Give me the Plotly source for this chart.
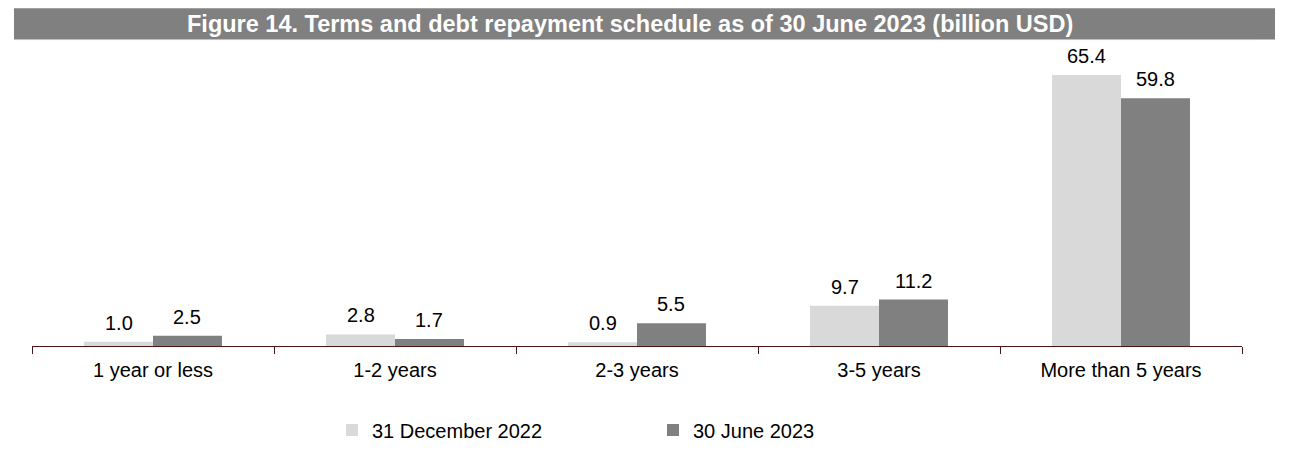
import plotly.graph_objects as go

categories = ["1 year or less", "1-2 years", "2-3 years", "3-5 years", "More than 5 years"]
dec_2022 = [1.0, 2.8, 0.9, 9.7, 65.4]
jun_2023 = [2.5, 1.7, 5.5, 11.2, 59.8]
series_names = ["31 December 2022", "30 June 2023"]
title_text = "Figure 14. Terms and debt repayment schedule as of 30 June 2023 (billion USD)"

OFF = 8  # page body margin
W, H = 1299 - OFF, 460 - OFF
# page coordinates of the plot area
P_L, P_R, P_T, P_B = 32, 1242, 56, 347
ML, MR, MT, MB = P_L - OFF, W - (P_R - OFF), P_T - OFF, H - (P_B - OFF)
PW, PH = P_R - P_L, P_B - P_T

def px_x(x):
    return (x - P_L) / PW

def px_y(y):
    return (P_B - y) / PH

LIGHT = "#d9d9d9"
DARK = "#808080"
FONT = "Liberation Sans, Arial, sans-serif"

fig = go.Figure()
fig.add_trace(go.Bar(x=categories, y=dec_2022, name=series_names[0], marker_color=LIGHT,
                     marker_line_width=0))
fig.add_trace(go.Bar(x=categories, y=jun_2023, name=series_names[1], marker_color=DARK,
                     marker_line_width=0))

bargap = 0.43
bar_w_px = PW / len(categories) * (1 - bargap) / 2
annotations = []
for vals, shift in ((dec_2022, -bar_w_px / 2), (jun_2023, bar_w_px / 2)):
    for c, v in zip(categories, vals):
        annotations.append(dict(x=c, y=v, xref="x", yref="y", text=f"{v:.1f}", showarrow=False,
                                xshift=shift, yshift=19, yanchor="middle",
                                font=dict(family=FONT, size=20, color="#000000")))

annotations.append(dict(x=px_x(630), y=px_y(24), xref="paper", yref="paper", text=f"<b>{title_text}</b>",
                        showarrow=False, xanchor="center", yanchor="middle",
                        font=dict(family=FONT, size=23.5, color="#ffffff")))

shapes = [
    dict(type="rect", xref="paper", yref="paper", x0=px_x(14), x1=px_x(1275), y0=px_y(39.5), y1=px_y(8),
         fillcolor="#808080", line_width=0, layer="below"),
    dict(type="line", xref="paper", yref="paper", x0=px_x(14), x1=px_x(1258), y0=px_y(39.5), y1=px_y(39.5),
         line=dict(color="#c0c0c0", width=1)),
]

fig.update_layout(
    width=W, height=H,
    margin=dict(l=ML, r=MR, t=MT, b=MB, pad=0),
    paper_bgcolor="white", plot_bgcolor="white",
    barmode="group", bargap=bargap, bargroupgap=0,
    showlegend=True,
    legend=dict(orientation="h", x=px_x(332), xanchor="left", y=px_y(430), yanchor="middle",
                font=dict(family=FONT, size=20, color="#000000"), entrywidth=276,
                itemclick=False, bgcolor="rgba(0,0,0,0)", traceorder="normal"),
    annotations=annotations,
    shapes=shapes,
    font=dict(family=FONT, size=20, color="#000000"),
)
fig.update_xaxes(showline=True, linecolor="#4a1414", linewidth=1, ticks="outside", ticklen=7,
                 tickcolor="#4a1414", tickson="boundaries", showgrid=False,
                 tickfont=dict(family=FONT, size=20, color="#000000"), ticklabelstandoff=6)
fig.update_yaxes(range=[0, 70], visible=False, showgrid=False, zeroline=False)

fig.write_html("out.html")
